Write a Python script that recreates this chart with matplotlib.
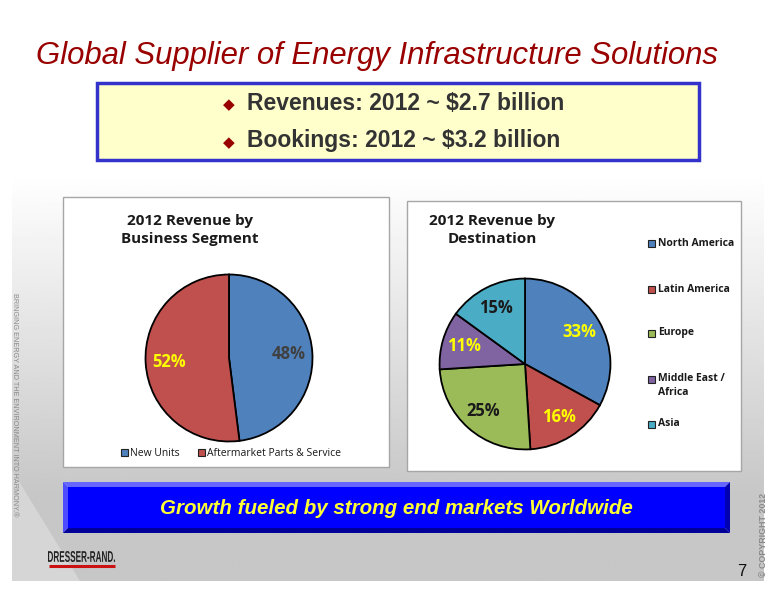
import numpy as np
import matplotlib
matplotlib.use("Agg")
import matplotlib.pyplot as plt
from matplotlib.patches import Rectangle, Polygon, PathPatch
from matplotlib.textpath import TextPath
from matplotlib.font_manager import FontProperties
from matplotlib.transforms import Affine2D

# Data
seg_labels = ["New Units", "Aftermarket Parts & Service"]
seg_values = [48, 52]
seg_colors = ["#4f81bd", "#c0504d"]
seg_text_colors = ["#404040", "#ffff00"]

dest_labels = ["North America", "Latin America", "Europe", "Middle East /\nAfrica", "Asia"]
dest_values = [33, 16, 25, 11, 15]
dest_colors = ["#4f81bd", "#c0504d", "#9bbb59", "#8064a2", "#4bacc6"]
dest_text_colors = ["#ffff00", "#ffff00", "#1a1a1a", "#ffff00", "#1a1a1a"]

title = "Global Supplier of Energy Infrastructure Solutions"
bullets = ["Revenues: 2012 ~ \\$2.7 billion", "Bookings: 2012 ~ \\$3.2 billion"]
banner = "Growth fueled by strong end markets Worldwide"

W, H = 776, 600
fig = plt.figure(figsize=(W / 100, H / 100), dpi=100)
bg = fig.add_axes([0, 0, 1, 1])
bg.set_xlim(0, W)
bg.set_ylim(H, 0)
bg.axis("off")

# slide background: white top fading to light gray
yy = np.linspace(0, 1, 300)[:, None]
xx = np.linspace(0, 1, 300)[None, :]
grad = np.clip((yy - 0.30) / 0.55, 0, 1) * 0.22 + 0 * xx
bg.imshow(1 - grad, cmap="gray", vmin=0, vmax=1, extent=(12, 764, 581, 0),
          aspect="auto", zorder=0)
bg.add_patch(Polygon([[12, 470], [12, 581], [80, 581]], closed=True,
                     facecolor="#d6d6d6", edgecolor="none", zorder=0.5))
bg.add_patch(Rectangle((0, 581), W, H - 581, facecolor="white", edgecolor="none", zorder=1))

# title
bg.text(377, 56, title, fontsize=22.4, style="italic", color="#990000",
        ha="center", va="center", family="Liberation Sans")

# yellow box
bg.add_patch(Rectangle((97, 83), 602, 77, facecolor="#ffffcc", edgecolor="#3333cc",
                       lw=2.5, zorder=2))
for i, txt in enumerate(bullets):
    y = 103 + i * 38
    bg.text(229, y + 2, "\u25c6", fontsize=11, color="#990000", ha="center",
            va="center", zorder=3, family="DejaVu Sans")
    bg.text(247, y, txt, fontsize=16.5, fontweight="bold", color="#333333",
            ha="left", va="center", zorder=3, family="Liberation Sans")

# chart panels
bg.add_patch(Rectangle((63, 197), 326, 270, facecolor="white", edgecolor="#a6a6a6",
                       lw=1, zorder=2))
bg.add_patch(Rectangle((407, 201), 334, 270, facecolor="white", edgecolor="#a6a6a6",
                       lw=1, zorder=2))

bg.text(190, 230, "2012 Revenue by\nBusiness Segment", fontsize=11, fontweight="bold",
        ha="center", va="center", color="#1a1a1a", linespacing=1.3, zorder=3,
        family="Open Sans")
bg.text(492, 230, "2012 Revenue by\nDestination", fontsize=11, fontweight="bold",
        ha="center", va="center", color="#1a1a1a", linespacing=1.3, zorder=3,
        family="Open Sans")


def pie_axes(cx, cy, r):
    return fig.add_axes([(cx - r) / W, 1 - (cy + r) / H, 2 * r / W, 2 * r / H])


def draw_pie(ax, values, colors, text_colors, pctdist):
    wedges, _, autotexts = ax.pie(values, colors=colors, startangle=90, counterclock=False,
                                  autopct="%d%%", pctdistance=pctdist,
                                  wedgeprops=dict(edgecolor="black", linewidth=1.3),
                                  textprops=dict(fontsize=12, fontweight="bold",
                                                 family="Open Sans"))
    for t, c in zip(autotexts, text_colors):
        t.set_color(c)
    ax.set_xlim(-1.03, 1.03)
    ax.set_ylim(-1.03, 1.03)
    ax.set_aspect("equal")
    ax.axis("off")
    return wedges


ax1 = pie_axes(229, 358, 86)
draw_pie(ax1, seg_values, seg_colors, seg_text_colors, 0.72)

ax2 = pie_axes(525, 364, 88)
draw_pie(ax2, dest_values, dest_colors, dest_text_colors, 0.74)

# legends drawn by hand to match the slide
for x, lab, col in zip([121, 198], seg_labels, seg_colors):
    bg.add_patch(Rectangle((x, 449), 7, 7, facecolor=col, edgecolor="#222222", lw=0.8, zorder=3))
    bg.text(x + 9, 453, lab, fontsize=7.5, ha="left", va="center", color="#1a1a1a",
            zorder=3, family="Open Sans")

for y, lab, col in zip([243, 289, 333, 379, 424], dest_labels, dest_colors):
    bg.add_patch(Rectangle((648, y - 3.5), 7, 7, facecolor=col, edgecolor="#222222", lw=0.8, zorder=3))
    if "\n" in lab:
        bg.text(658, y - 6, lab, fontsize=7.5, fontweight="bold", ha="left", va="top",
                color="#1a1a1a", zorder=3, family="Open Sans", linespacing=1.4)
    else:
        bg.text(658, y, lab, fontsize=7.5, fontweight="bold", ha="left", va="center",
                color="#1a1a1a", zorder=3, family="Open Sans")

# side captions
bg.text(14, 405, "BRINGING ENERGY AND THE ENVIRONMENT INTO HARMONY.\u00ae", rotation=270,
        fontsize=5.2, color="#8a8a8a", ha="center", va="center", family="Liberation Sans")
bg.text(763, 535, "\u00a9 COPYRIGHT 2012", rotation=90, fontsize=6.4, color="#8a8a8a",
        fontweight="bold", ha="center", va="center", family="Liberation Sans")

# blue banner with bevel
x0, y0, x1, y1, b = 63, 482, 730, 533, 5
bg.add_patch(Polygon([[x0, y0], [x1, y0], [x1 - b, y0 + b], [x0 + b, y0 + b]], facecolor="#6666ff", edgecolor="none", zorder=3))
bg.add_patch(Polygon([[x0, y0], [x0 + b, y0 + b], [x0 + b, y1 - b], [x0, y1]], facecolor="#4d4dff", edgecolor="none", zorder=3))
bg.add_patch(Polygon([[x1, y0], [x1, y1], [x1 - b, y1 - b], [x1 - b, y0 + b]], facecolor="#0000b0", edgecolor="none", zorder=3))
bg.add_patch(Polygon([[x0, y1], [x1, y1], [x1 - b, y1 - b], [x0 + b, y1 - b]], facecolor="#000099", edgecolor="none", zorder=3))
bg.add_patch(Rectangle((x0 + b, y0 + b), x1 - x0 - 2 * b, y1 - y0 - 2 * b, facecolor="#0000ff",
                       edgecolor="none", zorder=3))
bg.text((x0 + x1) / 2, 508, banner, fontsize=14.8, fontweight="bold", style="italic",
        color="#ffff33", ha="center", va="center", zorder=4, family="Liberation Sans")

# logo: condensed bold text squeezed into its box, red underline
tp = TextPath((0, 0), "DRESSER-RAND.", size=10,
              prop=FontProperties(family="Liberation Sans", weight="bold"))
ext = tp.get_extents()
sx = (115 - 48) / ext.width
sy = 11 / ext.height
tr = Affine2D().translate(-ext.x0, -ext.y0).scale(sx, -sy).translate(48, 562) + bg.transData
bg.add_patch(PathPatch(tp, facecolor="#222222", edgecolor="none", transform=tr, zorder=4))
bg.plot([49, 115], [565.5, 565.5], color="#cc1111", lw=2.2, zorder=4, solid_capstyle="butt")
bg.text(742, 572, "7", fontsize=12, color="#111111", ha="center", va="center",
        family="Liberation Sans", zorder=4)

fig.savefig("out.png", dpi=100)
